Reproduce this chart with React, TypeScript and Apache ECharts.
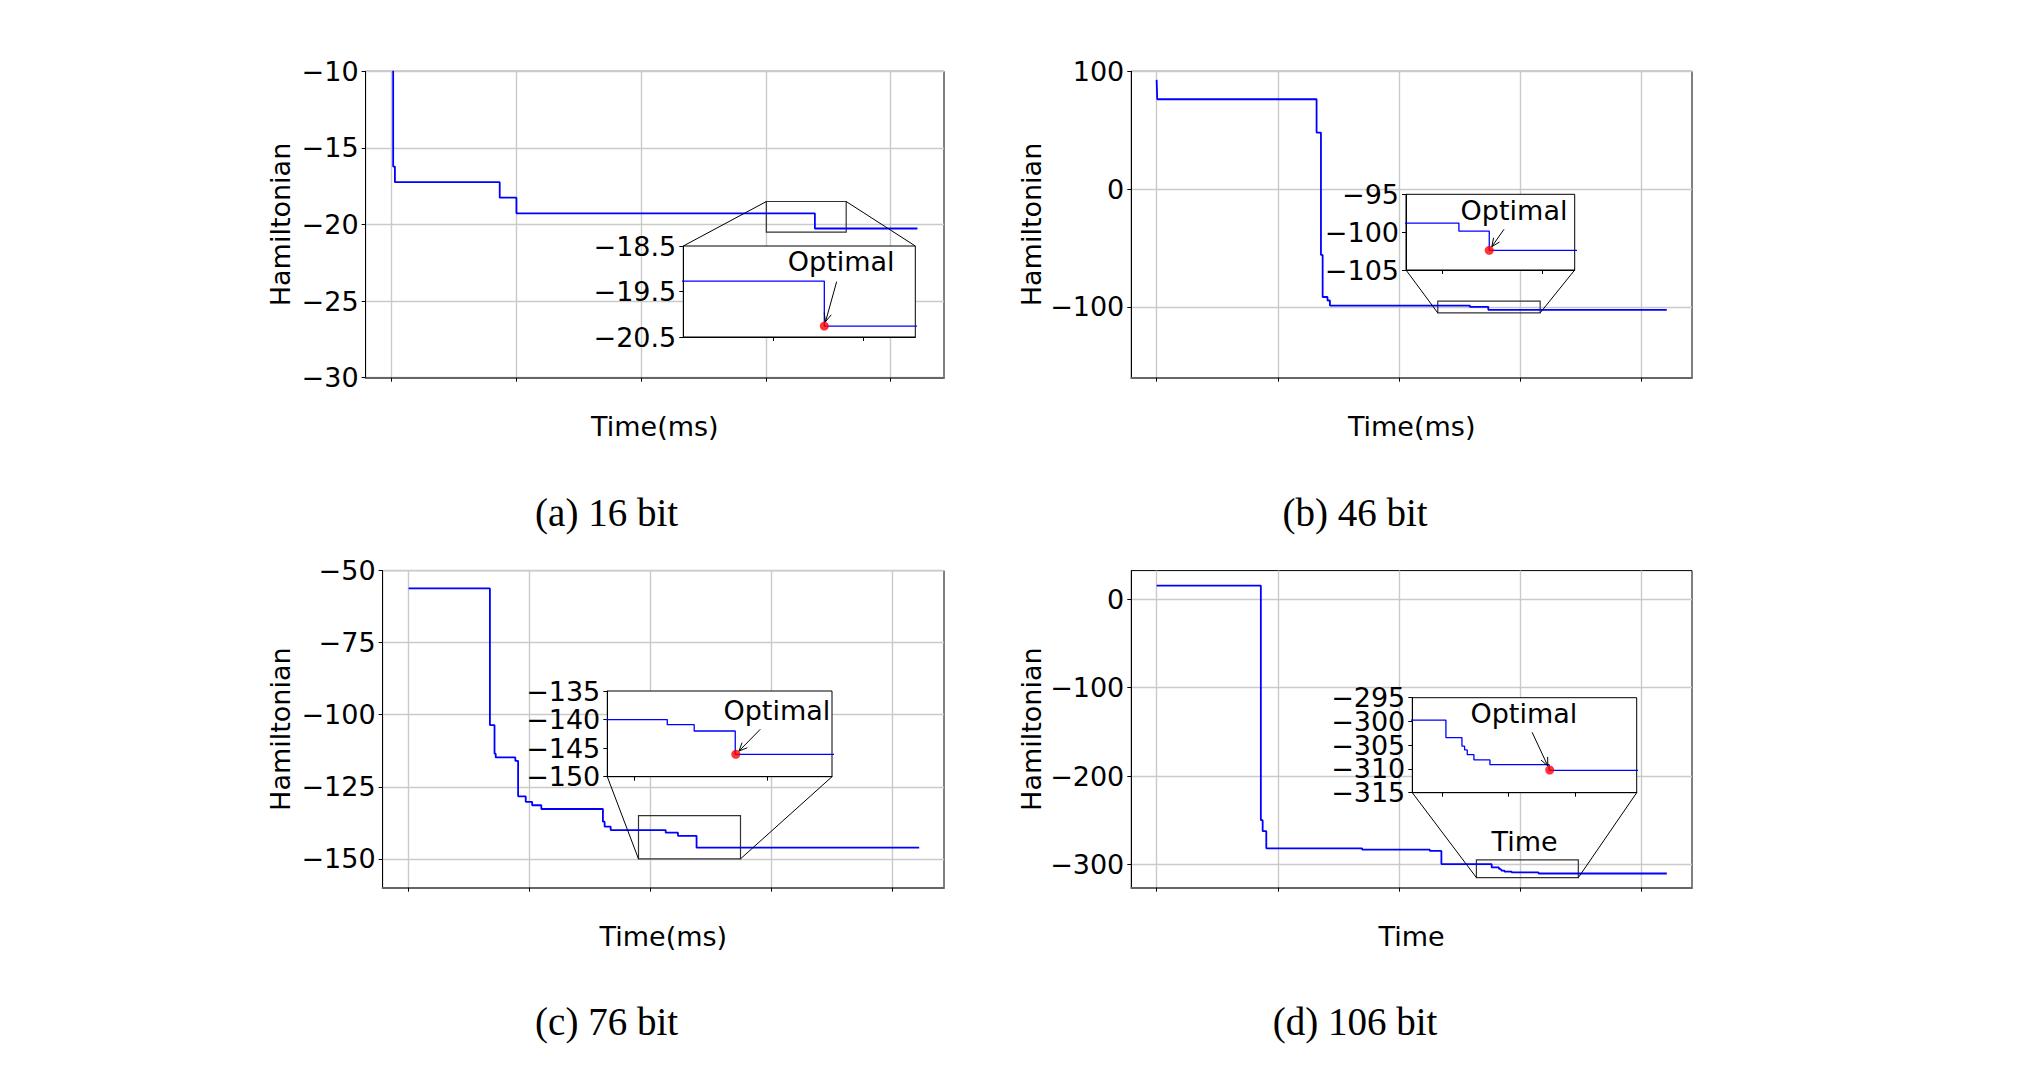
import React, { useEffect, useRef } from "react";
import * as echarts from "echarts";

// ---------------- data ----------------
const xTicks = [0, 1, 2, 3, 4];

// step data [time, hamiltonian]; value holds until the next point
const steps16 = [
  [0.005, -10], [0.012, -16.22], [0.026, -17.24], [0.866, -18.25], [1.0, -19.27],
  [3.392, -20.26], [4.214, -20.26],
];
const steps46 = [
  [0, 92.7], [0.005, 76.3], [1.32, 48.0], [1.356, -55.8], [1.37, -91.5], [1.41, -94.5],
  [1.43, -98.8], [2.585, -99.87], [2.737, -102.4], [4.21, -102.4],
];
const steps76 = [
  [0, -56.2], [0.672, -103.6], [0.71, -113.5], [0.72, -114.8], [0.882, -116.0],
  [0.905, -128.3], [0.968, -130.2], [1.021, -131.4], [1.097, -132.7], [1.606, -137.1],
  [1.62, -138.8], [1.67, -140.0], [2.125, -140.9], [2.226, -142.0], [2.38, -146.1],
  [4.22, -146.1],
];
const steps106 = [
  [0, 15.5], [0.86, -250], [0.875, -262.4], [0.905, -281.8], [1.696, -283.3],
  [2.255, -284.8], [2.35, -299.7], [2.765, -303.4], [2.825, -305.2], [2.835, -306.0],
  [2.845, -307.0], [2.87, -308.1], [2.93, -309.1], [3.152, -310.3], [4.21, -310.3],
];

const yTicks16 = [-30, -25, -20, -15, -10];
const yTicks46 = [-100, 0, 100];
const yTicks76 = [-150, -125, -100, -75, -50];
const yTicks106 = [-300, -200, -100, 0];

const insetYTicks16 = [-20.5, -19.5, -18.5];
const insetYTicks46 = [-105, -100, -95];
const insetYTicks76 = [-150, -145, -140, -135];
const insetYTicks106 = [-315, -310, -305, -300, -295];
const insetXTicks16 = [3.25, 3.5];
const insetXTicks46 = [2.5, 3.0];
const insetXTicks76 = [2.0, 2.5];
const insetXTicks106 = [2.75, 3.0, 3.25];

// axis ranges
const mainXRange16 = [-0.209, 4.427];
const mainXRange46 = [-0.209, 4.418];
const mainXRange76 = [-0.215, 4.425];
const mainXRange106 = [-0.209, 4.418];
const mainYRange16 = [-30, -10];
const mainYRange46 = [-160, 100];
const mainYRange76 = [-160, -50];
const mainYRange106 = [-326.4, 32.6];
const insetXRange16 = [3.003, 3.643];
const insetXRange46 = [2.32, 3.165];
const insetXRange76 = [1.9, 2.743];
const insetXRange106 = [2.639, 3.48];
const insetYRange16 = [-20.5, -18.5];
const insetYRange46 = [-105, -95];
const insetYRange76 = [-150, -135];
const insetYRange106 = [-315, -295];

// "Optimal" annotation: point, text anchor, arrow tail (inset data coords)
const optimal16 = [3.392, -20.26];
const optimal46 = [2.737, -102.4];
const optimal76 = [2.382, -146.08];
const optimal106 = [3.154, -310.22];
const optText16 = [3.4386, -18.83];
const optText46 = [2.861, -97.14];
const optText76 = [2.536, -138.38];
const optText106 = [3.057, -298.43];
const optTail16 = [3.426, -19.285];
const optTail46 = [2.811, -99.62];
const optTail76 = [2.474, -141.7];
const optTail106 = [3.088, -302.28];

const captions = ["(a) 16 bit", "(b) 46 bit", "(c) 76 bit", "(d) 106 bit"];
const xNames = ["Time(ms)", "Time(ms)", "Time(ms)", "Time"];
const insetXNames = ["", "", "", "Time"];

// ---------------- layout ----------------
const layout = [
  {
    main: { left: 365.6, top: 71.3, width: 578.4, height: 306.4 },
    inset: { left: 683.3, top: 246, width: 232, height: 91 },
    yGap: 72, caption: [606.6, 512], corner: "top",
  },
  {
    main: { left: 1131.3, top: 71.3, width: 560.7, height: 306.4 },
    inset: { left: 1406, top: 194.3, width: 168.7, height: 75.7 },
    yGap: 86, caption: [1355, 512], corner: "bottom",
  },
  {
    main: { left: 382.6, top: 570.6, width: 561.4, height: 317.1 },
    inset: { left: 607.3, top: 691, width: 224.7, height: 85.7 },
    yGap: 89, caption: [606.6, 1021.5], corner: "bottom",
  },
  {
    main: { left: 1131.3, top: 570.6, width: 560.7, height: 317.1 },
    inset: { left: 1412.3, top: 697.7, width: 224.4, height: 95 },
    yGap: 86, caption: [1355, 1021.5], corner: "bottom",
  },
];

const panels = [
  { data: steps16, yTicks: yTicks16, iy: insetYTicks16, ix: insetXTicks16, mx: mainXRange16, my: mainYRange16, ixr: insetXRange16, iyr: insetYRange16, opt: optimal16, txt: optText16, tail: optTail16 },
  { data: steps46, yTicks: yTicks46, iy: insetYTicks46, ix: insetXTicks46, mx: mainXRange46, my: mainYRange46, ixr: insetXRange46, iyr: insetYRange46, opt: optimal46, txt: optText46, tail: optTail46 },
  { data: steps76, yTicks: yTicks76, iy: insetYTicks76, ix: insetXTicks76, mx: mainXRange76, my: mainYRange76, ixr: insetXRange76, iyr: insetYRange76, opt: optimal76, txt: optText76, tail: optTail76 },
  { data: steps106, yTicks: yTicks106, iy: insetYTicks106, ix: insetXTicks106, mx: mainXRange106, my: mainYRange106, ixr: insetXRange106, iyr: insetYRange106, opt: optimal106, txt: optText106, tail: optTail106 },
];

const FONT = "DejaVu Sans";
const fmt = (v: number) => String(Math.round(v * 10) / 10).replace("-", "\u2212");

export default function App() {
  const ref = useRef<HTMLDivElement>(null);
  useEffect(() => {
    const chart = echarts.init(ref.current!, null, { renderer: "svg" });
    const grids: any[] = [];
    const xAxes: any[] = [];
    const yAxes: any[] = [];
    const series: any[] = [];
    const labelStyle = { fontSize: 27, fontFamily: FONT, color: "#000" };

    panels.forEach((p, i) => {
      const L = layout[i];
      grids[i] = { ...L.main, show: true, borderColor: "#000", borderWidth: 1, backgroundColor: "transparent", z: 0 };
      xAxes[i] = {
        type: "value", gridIndex: i, min: p.mx[0], max: p.mx[1], z: 1,
        axisLine: { show: true, onZero: false, lineStyle: { color: "#666", width: 2 } },
        axisTick: { show: true, length: 4, customValues: xTicks, lineStyle: { color: "#000", width: 1 } },
        axisLabel: { show: false },
        splitLine: { show: true, lineStyle: { color: "#cacaca", width: 1.4 } },
        name: xNames[i], nameLocation: "middle", nameGap: 35, nameTextStyle: labelStyle,
      };
      yAxes[i] = {
        type: "value", gridIndex: i, min: p.my[0], max: p.my[1], z: 1,
        axisLine: { show: true, onZero: false, lineStyle: { color: "#000", width: 1 } },
        axisTick: { show: true, length: 4, customValues: p.yTicks, lineStyle: { color: "#000", width: 1 } },
        axisLabel: { customValues: p.yTicks, formatter: fmt, margin: 7, interval: 0, showMinLabel: true, showMaxLabel: true, ...labelStyle },
        splitLine: { show: true, lineStyle: { color: "#cacaca", width: 1.4 } },
        name: "Hamiltonian", nameLocation: "middle", nameRotate: 90, nameGap: L.yGap, nameTextStyle: labelStyle,
      };
      series.push({
        type: "line", xAxisIndex: i, yAxisIndex: i, data: p.data, step: "end",
        symbol: "none", showSymbol: false, clip: true, z: 2,
        lineStyle: { color: "#0000ff", width: 1.8 },
        markArea: {
          silent: true,
          itemStyle: { color: "rgba(0,0,0,0)", borderColor: "#333", borderWidth: 1.2 },
          data: [[{ coord: [p.ixr[0], p.iyr[1]] }, { coord: [p.ixr[1], p.iyr[0]] }]],
        },
      });
    });

    panels.forEach((p, i) => {
      const L = layout[i];
      const k = i + 4;
      // tick labels are split over two overlaid axes so that close labels all stay visible
      const evenLabels = p.iy.filter((_, j) => j % 2 === 0);
      const oddLabels = p.iy.filter((_, j) => j % 2 === 1);
      grids[k] = { ...L.inset, show: true, borderColor: "#000", borderWidth: 1, backgroundColor: "#fff", z: 3 };
      xAxes[k] = {
        type: "value", gridIndex: k, min: p.ixr[0], max: p.ixr[1], z: 4,
        axisLine: { show: true, onZero: false, lineStyle: { color: "#000", width: 1 } },
        axisTick: { show: true, length: 4, customValues: p.ix, lineStyle: { color: "#000", width: 1 } },
        axisLabel: { show: false },
        splitLine: { show: false },
        name: insetXNames[i], nameLocation: "middle", nameGap: 35, nameTextStyle: labelStyle,
      };
      yAxes[k] = {
        type: "value", gridIndex: k, min: p.iyr[0], max: p.iyr[1], z: 4,
        axisLine: { show: true, onZero: false, lineStyle: { color: "#000", width: 1 } },
        axisTick: { show: true, length: 4, customValues: p.iy, lineStyle: { color: "#000", width: 1 } },
        axisLabel: { customValues: evenLabels, formatter: fmt, margin: 7, interval: 0, showMinLabel: true, showMaxLabel: true, hideOverlap: false, ...labelStyle },
        splitLine: { show: false },
      };
      yAxes[k + 4] = {
        type: "value", gridIndex: k, min: p.iyr[0], max: p.iyr[1], z: 4, position: "left", offset: 0,
        axisLine: { show: false, onZero: false },
        axisTick: { show: false, customValues: oddLabels.length ? oddLabels : [p.iyr[0]] },
        axisLabel: { show: oddLabels.length > 0, customValues: oddLabels, formatter: fmt, margin: 7, interval: 0, showMinLabel: true, showMaxLabel: true, hideOverlap: false, ...labelStyle },
        splitLine: { show: false },
      };
      series.push({
        type: "line", xAxisIndex: k, yAxisIndex: k, data: p.data, step: "end",
        symbol: "none", showSymbol: false, clip: true, z: 5,
        lineStyle: { color: "#0000ff", width: 1.3 },
      });
      series.push({
        type: "scatter", xAxisIndex: k, yAxisIndex: k, data: [p.opt], symbolSize: 9, z: 6,
        itemStyle: { color: "#ff0000" },
      });
    });

    chart.setOption({
      animation: false,
      backgroundColor: "#fff",
      grid: grids,
      xAxis: xAxes,
      yAxis: yAxes,
      series,
    });

    const g: any[] = [];
    panels.forEach((p, i) => {
      const L = layout[i];
      const toMain = (pt: number[]) => chart.convertToPixel({ gridIndex: i }, pt) as number[];
      const toInset = (pt: number[]) => chart.convertToPixel({ gridIndex: i + 4 }, pt) as number[];
      const yc = L.corner === "top" ? p.iyr[1] : p.iyr[0];
      [p.ixr[0], p.ixr[1]].forEach((xc) => {
        const a = toMain([xc, yc]);
        const b = toInset([xc, yc]);
        g.push({ type: "line", z: 10, shape: { x1: a[0], y1: a[1], x2: b[0], y2: b[1] }, style: { stroke: "#000", lineWidth: 1 } });
      });
      // annotation arrow
      const dot = toInset(p.opt);
      const tail = toInset(p.tail);
      const dx = dot[0] - tail[0], dy = dot[1] - tail[1];
      const len = Math.hypot(dx, dy);
      const ux = dx / len, uy = dy / len;
      const tip = [dot[0] - ux * 4.5, dot[1] - uy * 4.5];
      g.push({ type: "line", z: 10, shape: { x1: tail[0], y1: tail[1], x2: tip[0], y2: tip[1] }, style: { stroke: "#000", lineWidth: 1 } });
      const hl = 9, ang = (24 * Math.PI) / 180;
      const rot = (s: number) => [
        tip[0] - hl * (ux * Math.cos(s * ang) - uy * Math.sin(s * ang)),
        tip[1] - hl * (ux * Math.sin(s * ang) + uy * Math.cos(s * ang)),
      ];
      g.push({ type: "polyline", z: 10, shape: { points: [rot(1), tip, rot(-1)] }, style: { stroke: "#000", lineWidth: 1, fill: null } });
      const t = toInset(p.txt);
      g.push({
        type: "text", z: 10, x: t[0], y: t[1],
        style: { text: "Optimal", font: `27px "${FONT}"`, fill: "#000", align: "center", verticalAlign: "middle", textAlign: "center", textVerticalAlign: "middle" },
      });
      g.push({
        type: "text", z: 10, x: L.caption[0], y: L.caption[1],
        style: { text: captions[i], font: '39px "Liberation Serif"', fill: "#000", align: "center", verticalAlign: "middle", textAlign: "center", textVerticalAlign: "middle" },
      });
    });
    chart.setOption({ graphic: g });

    return () => chart.dispose();
  }, []);
  return <div ref={ref} style={{ position: "absolute", left: 0, top: 0, width: 2040, height: 1073 }} />;
}
